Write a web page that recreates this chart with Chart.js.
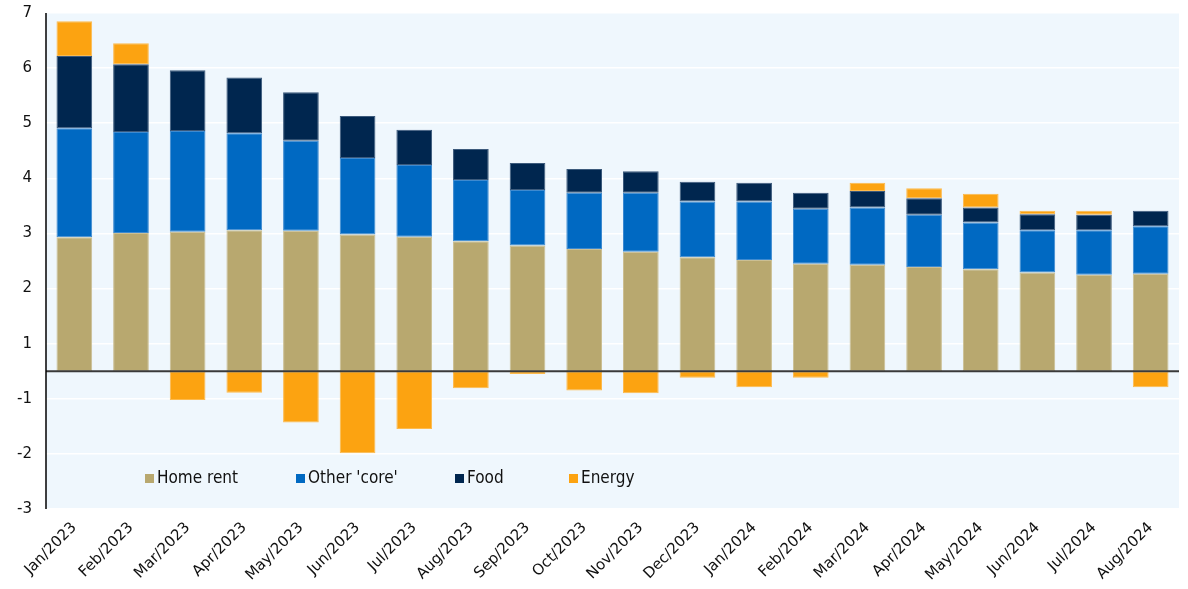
<!DOCTYPE html>
<html>
<head>
<meta charset="utf-8">
<script src="https://cdn.jsdelivr.net/npm/chart.js@4/dist/chart.umd.min.js"></script>
<style>
  html, body { margin: 0; padding: 0; background: #ffffff; }
  #wrap { width: 1188px; height: 589px; position: relative; }
</style>
</head>
<body>
<div id="wrap"><canvas id="c" width="1188" height="589"></canvas></div>
<script>
const categories = ["Jan/2023","Feb/2023","Mar/2023","Apr/2023","May/2023","Jun/2023","Jul/2023","Aug/2023","Sep/2023","Oct/2023","Nov/2023","Dec/2023","Jan/2024","Feb/2024","Mar/2024","Apr/2024","May/2024","Jun/2024","Jul/2024","Aug/2024"];
const homeRent  = [2.43, 2.51, 2.53, 2.56, 2.55, 2.48, 2.44, 2.36, 2.28, 2.22, 2.17, 2.07, 2.02, 1.95, 1.93, 1.89, 1.85, 1.79, 1.75, 1.77];
const otherCore = [1.98, 1.83, 1.83, 1.76, 1.63, 1.39, 1.30, 1.11, 1.01, 1.02, 1.07, 1.01, 1.06, 1.00, 1.04, 0.95, 0.85, 0.77, 0.81, 0.86];
const food      = [1.31, 1.23, 1.10, 1.01, 0.88, 0.76, 0.64, 0.56, 0.49, 0.43, 0.39, 0.36, 0.34, 0.29, 0.30, 0.30, 0.27, 0.29, 0.28, 0.28];
const energy    = [0.63, 0.38, -0.52, -0.39, -0.93, -1.49, -1.05, -0.31, -0.05, -0.35, -0.40, -0.12, -0.29, -0.12, 0.15, 0.18, 0.25, 0.06, 0.07, -0.29];
const seriesNames = ["Home rent", "Other 'core'", "Food", "Energy"];
const yTickValues = [6.5, 5.5, 4.5, 3.5, 2.5, 1.5, 0.5, -0.5, -1.5, -2.5];
const yTickLabels = ["7", "6", "5", "4", "3", "2", "1", "-1", "-2", "-3"];

const FONT = "'DejaVu Sans', sans-serif";
const LEGEND_FONT = "'DejaVu Sans Condensed', 'DejaVu Sans', sans-serif";
const colors = ["#b8a86f", "#0069c2", "#00264f", "#fca311"];
const edgeColors = ["#cbbf93", "#3d8ad0", "#3c5a7c", "#fdba4d"];
const legendOffsets = [99, 250, 409, 523];

const plotBg = {
  id: 'plotBg',
  beforeDraw(chart) {
    const {ctx, chartArea: a} = chart;
    ctx.save();
    ctx.fillStyle = '#eff7fd';
    ctx.fillRect(a.left, a.top, a.right - a.left, a.bottom - a.top);
    ctx.restore();
  },
  afterDatasetsDraw(chart) {
    const {ctx, chartArea: a, scales} = chart;
    const y0 = scales.y.getPixelForValue(0);
    ctx.save();
    ctx.strokeStyle = '#3a3a3a';
    ctx.lineWidth = 2;
    ctx.beginPath();
    ctx.moveTo(a.left, y0);
    ctx.lineTo(a.right, y0);
    ctx.stroke();
    ctx.strokeStyle = '#000000';
    ctx.lineWidth = 1.5;
    ctx.beginPath();
    ctx.moveTo(a.left, a.top);
    ctx.lineTo(a.left, a.bottom);
    ctx.stroke();
    // legend inside plot area
    const ly = a.bottom - 30;
    ctx.font = '17px ' + LEGEND_FONT;
    ctx.textBaseline = 'middle';
    ctx.textAlign = 'left';
    chart.data.datasets.forEach((ds, i) => {
      const lx = a.left + legendOffsets[i];
      ctx.fillStyle = ds.backgroundColor;
      ctx.fillRect(lx, ly - 5, 9, 9);
      ctx.fillStyle = '#111111';
      ctx.fillText(ds.label, lx + 12, ly);
    });
    ctx.restore();
  }
};

const datasets = [homeRent, otherCore, food, energy].map((d, i) => ({
  label: seriesNames[i],
  data: d,
  backgroundColor: colors[i],
  borderColor: edgeColors[i],
  borderWidth: 1,
  borderSkipped: false,
  stack: 's'
}));

new Chart(document.getElementById('c'), {
  type: 'bar',
  data: { labels: categories, datasets },
  plugins: [plotBg],
  options: {
    responsive: false,
    animation: false,
    layout: { padding: { left: 0, top: 13, right: 9, bottom: 0 } },
    datasets: { bar: { categoryPercentage: 1.0, barPercentage: 0.63 } },
    plugins: { legend: { display: false }, tooltip: { enabled: false } },
    scales: {
      x: {
        stacked: true,
        grid: { display: false, drawTicks: false },
        border: { display: false },
        ticks: {
          minRotation: 45, maxRotation: 45, autoSkip: false,
          color: '#111111', font: { family: FONT, size: 15 }, padding: 10
        },
        afterFit(scale) { scale.height = 80; scale.paddingLeft = 0; scale.paddingRight = 0; }
      },
      y: {
        stacked: true,
        min: -2.5, max: 6.5,
        grid: { color: '#ffffff', lineWidth: 1.5, drawTicks: false },
        border: { display: false },
        afterBuildTicks(scale) { scale.ticks = yTickValues.map(v => ({ value: v })); },
        ticks: {
          color: '#111111', font: { family: FONT, size: 15 }, padding: 14,
          callback: function(value) {
            const idx = yTickValues.indexOf(value);
            return idx >= 0 ? yTickLabels[idx] : '';
          }
        },
        afterFit(scale) { scale.width = 46; scale.paddingTop = 0; scale.paddingBottom = 0; }
      }
    }
  }
});
</script>
</body>
</html>
